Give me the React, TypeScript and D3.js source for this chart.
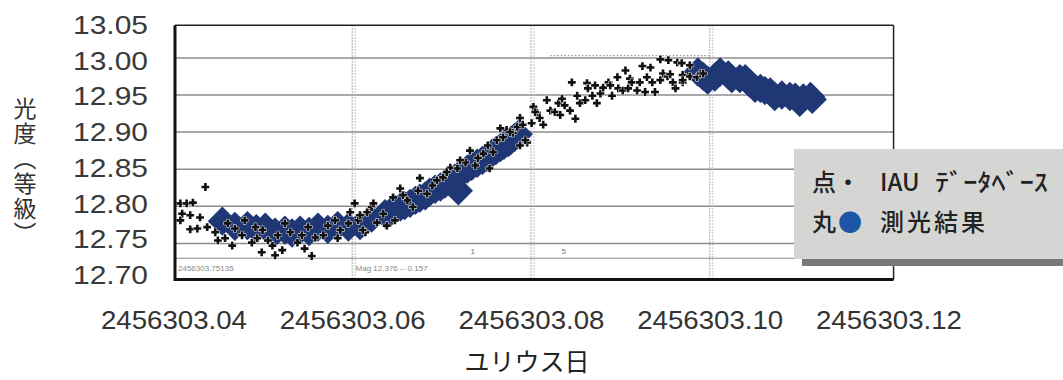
import React from 'react';
import * as d3 from 'd3';

// Julian date minus 2456303
const xTicks = [0.04, 0.06, 0.08, 0.1, 0.12];
const xTickLabels = ['2456303.04', '2456303.06', '2456303.08', '2456303.10', '2456303.12'];
const yTicks = [12.7, 12.75, 12.8, 12.85, 12.9, 12.95, 13.0, 13.05];
const yGrid = [12.75, 12.8, 12.85, 12.9, 12.95, 13.0];
const xGrid = [0.06, 0.08, 0.1];

// 丸● 測光結果 (own photometry)
const obsJd = [
  0.0453, 0.0467, 0.0481, 0.0491, 0.0501, 0.0512, 0.0523, 0.0531, 0.054, 0.055,
  0.056, 0.0571, 0.0582, 0.0594, 0.0607, 0.062,
  0.0635, 0.0641, 0.0646, 0.0652, 0.0657, 0.0663, 0.0669, 0.0674, 0.068, 0.0685,
  0.0691, 0.0697, 0.0702, 0.0708, 0.0713, 0.0717, 0.0721, 0.0727, 0.0732, 0.0738,
  0.0744, 0.0749, 0.0755, 0.0759, 0.0764, 0.0768, 0.0773, 0.0776, 0.078, 0.0784,
  0.0985, 0.0991, 0.0996, 0.1004, 0.101, 0.1019, 0.1023, 0.1032, 0.1038, 0.1043,
  0.1049, 0.1055, 0.106, 0.1066, 0.1071, 0.1079, 0.1088, 0.1094, 0.1099, 0.1103,
  0.1111, 0.1113,
];
const obsMag = [
  12.78, 12.773, 12.774, 12.77, 12.772, 12.765, 12.768, 12.764, 12.768, 12.766,
  12.772, 12.769, 12.774, 12.772, 12.774, 12.784,
  12.79, 12.792, 12.796, 12.799, 12.801, 12.804, 12.808, 12.811, 12.814, 12.819,
  12.823, 12.826, 12.83, 12.832, 12.838, 12.821, 12.846, 12.85, 12.854, 12.858,
  12.862, 12.866, 12.872, 12.875, 12.879, 12.882, 12.886, 12.889, 12.893, 12.897,
  12.981, 12.975, 12.97, 12.974, 12.981, 12.977, 12.972, 12.972, 12.972, 12.966,
  12.959, 12.959, 12.956, 12.954, 12.948, 12.95, 12.948, 12.947, 12.94, 12.946,
  12.948, 12.944,
];

// 点・ IAU データベース
const dbJd = [
  0.0434, 0.0406, 0.0413, 0.042, 0.0408, 0.0417, 0.0406, 0.0428, 0.0417, 0.0425,
  0.0436, 0.0448, 0.0456, 0.0459, 0.0467, 0.0475, 0.0486, 0.0492, 0.0478, 0.049,
  0.0498, 0.0497, 0.0512, 0.0509, 0.052, 0.0515, 0.0523, 0.0529, 0.0537, 0.0542,
  0.0549, 0.0553, 0.0557, 0.0566, 0.0571, 0.0579, 0.0585, 0.0594, 0.0601, 0.0605,
  0.0613, 0.0615, 0.062, 0.061, 0.0622, 0.0633, 0.0637, 0.0644, 0.0652, 0.066,
  0.0666, 0.0674, 0.0682, 0.0693, 0.07, 0.0708, 0.0716, 0.0725, 0.073, 0.0736,
  0.0745, 0.0752, 0.0756, 0.076, 0.0767, 0.0771, 0.0778, 0.0783, 0.0789, 0.0794,
  0.0799, 0.0805, 0.0812, 0.0801, 0.0775, 0.0792, 0.0786, 0.0803, 0.0816, 0.082,
  0.0825, 0.0831, 0.0829, 0.0836, 0.0844, 0.0848, 0.085, 0.0853, 0.0861, 0.0862,
  0.0867, 0.0872, 0.0876, 0.0879, 0.0885, 0.0887, 0.0895, 0.0896, 0.0901, 0.0904,
  0.0909, 0.0911, 0.0917, 0.092, 0.0923, 0.0928, 0.0934, 0.0937, 0.0932, 0.0943,
  0.0946, 0.0951, 0.0954, 0.0957, 0.096, 0.0962, 0.0967, 0.0968, 0.0968, 0.0976,
  0.0984, 0.0988, 0.0991, 0.0968,
  0.0607, 0.0626, 0.0646, 0.0655, 0.0672, 0.0688, 0.0704, 0.0719, 0.0739, 0.075,
  0.0764, 0.0786, 0.0808, 0.0833, 0.0842, 0.0859, 0.087, 0.0889, 0.0907, 0.0926,
  0.0943, 0.0952, 0.0976, 0.0445, 0.0464, 0.0504, 0.0545, 0.0582, 0.0596,
];
const dbMag = [
  12.826, 12.804, 12.804, 12.805, 12.79, 12.788, 12.781, 12.785, 12.769, 12.77,
  12.772, 12.754, 12.757, 12.777, 12.77, 12.761, 12.751, 12.757, 12.781, 12.772,
  12.768, 12.738, 12.734, 12.747, 12.741, 12.761, 12.777, 12.765, 12.751, 12.761,
  12.772, 12.733, 12.758, 12.761, 12.774, 12.781, 12.768, 12.777, 12.804, 12.781,
  12.765, 12.792, 12.799, 12.768, 12.804, 12.79, 12.774, 12.812, 12.824, 12.808,
  12.799, 12.838, 12.817, 12.835, 12.839, 12.852, 12.851, 12.859, 12.875, 12.855,
  12.871, 12.851, 12.873, 12.889, 12.893, 12.903, 12.899, 12.907, 12.91, 12.886,
  12.912, 12.926, 12.91, 12.934, 12.9, 12.889, 12.882, 12.927, 12.943, 12.929,
  12.927, 12.923, 12.939, 12.936, 12.967, 12.918, 12.949, 12.939, 12.966, 12.959,
  12.949, 12.939, 12.952, 12.96, 12.967, 12.963, 12.974, 12.959, 12.956, 12.983,
  12.972, 12.967, 12.956, 12.967, 12.989, 12.974, 12.967, 12.954, 12.987, 12.998,
  12.979, 12.975, 12.978, 12.967, 12.959, 12.994, 12.993, 12.967, 12.977, 12.975,
  12.974, 12.979, 12.979, 12.97,
  12.788, 12.778, 12.781, 12.815, 12.821, 12.828, 12.846, 12.862, 12.865, 12.882,
  12.905, 12.919, 12.919, 12.945, 12.929, 12.943, 12.963, 12.949, 12.959, 12.954,
  12.97, 12.997, 12.99, 12.765, 12.747, 12.754, 12.743, 12.757, 12.792,
];

const W = 1063;
const H = 380;

const x = d3.scaleLinear().domain([0.04, 0.12]).range([175, 890]);
const y = d3.scaleLinear().domain([12.7, 13.05]).range([280.5, 20.8]);
// tick labels were pasted slightly off the grid in the original figure
const yLab = d3.scaleLinear().domain([12.7, 13.05]).range([275, 25]);

const diamond = d3.symbol().type(d3.symbolSquare).size(430)();
const cross = d3.symbol().type(d3.symbolCross).size(34)();

export default function App() {
  const left = x(0.04);
  const right = x(0.1204);
  const top = y(13.044);
  const bottom = y(12.7) - 1;
  const numFont = '"Liberation Sans", Arial, sans-serif';
  const jpFont = '"Noto Sans CJK JP", "Noto Sans", sans-serif';

  return (
    <svg width={W} height={H} style={{ position: 'absolute', left: 0, top: 0, background: '#fff' }}>
      {/* plot background */}
      <rect x={left} y={top} width={right - left} height={bottom - top} fill="#fff" />

      {/* horizontal grid */}
      {yGrid.map(v => (
        <line key={v} x1={left} x2={right} y1={y(v)} y2={y(v)} stroke="#8c8c8c" strokeWidth={1.5} />
      ))}
      <line x1={left} x2={right} y1={y(12.73)} y2={y(12.73)} stroke="#8c8c8c" strokeWidth={1.2} />
      <line x1={x(0.082)} x2={x(0.1)} y1={y(13.003)} y2={y(13.003)} stroke="#999" strokeWidth={1.2} strokeDasharray="1.5 2" />

      {/* vertical dotted grid */}
      {xGrid.map(v => (
        <g key={v}>
          <line x1={x(v) - 1.5} x2={x(v) - 1.5} y1={top} y2={bottom} stroke="#a0a0a0" strokeWidth={1.2} strokeDasharray="1.5 1.5" />
          <line x1={x(v) + 1.5} x2={x(v) + 1.5} y1={top} y2={bottom} stroke="#bdbdbd" strokeWidth={1.2} strokeDasharray="1.5 1.5" />
        </g>
      ))}

      {/* small scale labels of the original plot */}
      <text x={x(0.0733)} y={y(12.736)} fontSize={8} fill="#777" fontFamily={numFont} textAnchor="middle">1</text>
      <text x={x(0.0835)} y={y(12.736)} fontSize={8} fill="#777" fontFamily={numFont} textAnchor="middle">5</text>
      <text x={left + 3} y={y(12.713)} fontSize={8} fill="#888" fontFamily={numFont}>2456303.75135</text>
      <text x={x(0.0602)} y={y(12.713)} fontSize={8} fill="#888" fontFamily={numFont}>Mag 12.376 -- 0.157</text>

      {/* own photometry */}
      {obsJd.map((t, i) => (
        <path key={'o' + i} d={diamond!} transform={`translate(${x(t)},${y(obsMag[i])}) rotate(45)`} fill="#1f3775" />
      ))}

      {/* IAU database */}
      {dbJd.map((t, i) => (
        <path
          key={'d' + i}
          d={cross!}
          transform={`translate(${x(t)},${y(dbMag[i])})`}
          fill="#111"
          stroke="#fff"
          strokeWidth={1}
          style={{ paintOrder: 'stroke' }}
        />
      ))}

      {/* frame */}
      <line x1={left} x2={right} y1={top} y2={top} stroke="#222" strokeWidth={1.5} />
      <line x1={right} x2={right} y1={top} y2={bottom} stroke="#222" strokeWidth={1.5} />
      <line x1={left} x2={left} y1={top} y2={bottom + 1.5} stroke="#111" strokeWidth={3} />
      <line x1={left} x2={right} y1={bottom} y2={bottom} stroke="#111" strokeWidth={3} />

      {/* y tick labels */}
      {yTicks.map(v => (
        <text
          key={v}
          x={148}
          y={yLab(v)}
          textAnchor="end"
          dominantBaseline="central"
          fontFamily={numFont}
          fontSize={25}
          fill="#3a3a3a"
          textLength={75}
          lengthAdjust="spacingAndGlyphs"
        >
          {v.toFixed(2)}
        </text>
      ))}

      {/* x tick labels */}
      {xTicks.map((v, i) => (
        <text
          key={v}
          x={x(v) - 1}
          y={320}
          textAnchor="middle"
          dominantBaseline="central"
          fontFamily={numFont}
          fontSize={25}
          fill="#333"
          textLength={146}
          lengthAdjust="spacingAndGlyphs"
        >
          {xTickLabels[i]}
        </text>
      ))}

      {/* axis titles */}
      <text x={527} y={371} textAnchor="middle" fontFamily={jpFont} fontSize={25} fill="#222">
        ユリウス日
      </text>
      <text
        x={25}
        y={172}
        textAnchor="middle"
        fontFamily={jpFont}
        fontSize={23}
        fill="#333"
        letterSpacing={2}
        style={{ writingMode: 'vertical-rl' }}
      >
        光度（等級）
      </text>

      {/* legend */}
      <rect x={802} y={157} width={W - 802} height={109} fill="#76787a" />
      <rect x={794} y={149} width={W - 794} height={110} fill="#d5d6d4" />
      <text x={812} y={191} fontFamily={jpFont} fontSize={24} fill="#222" fontWeight={500}>点・</text>
      <text x={880} y={191} fontFamily={jpFont} fontSize={24} fill="#222" fontWeight={500}>IAU</text>
      <text x={935} y={191} fontFamily={jpFont} fontSize={24} fill="#222" fontWeight={500} textLength={113} lengthAdjust="spacingAndGlyphs">ﾃﾞｰﾀﾍﾞｰｽ</text>
      <text x={812} y={231} fontFamily={jpFont} fontSize={24} fill="#222" fontWeight={500}>丸</text>
      <text x={838} y={231} fontFamily={jpFont} fontSize={24} fill="#1e56a6">●</text>
      <text x={880} y={231} fontFamily={jpFont} fontSize={24} fill="#222" fontWeight={500} letterSpacing={3}>測光結果</text>
    </svg>
  );
}
